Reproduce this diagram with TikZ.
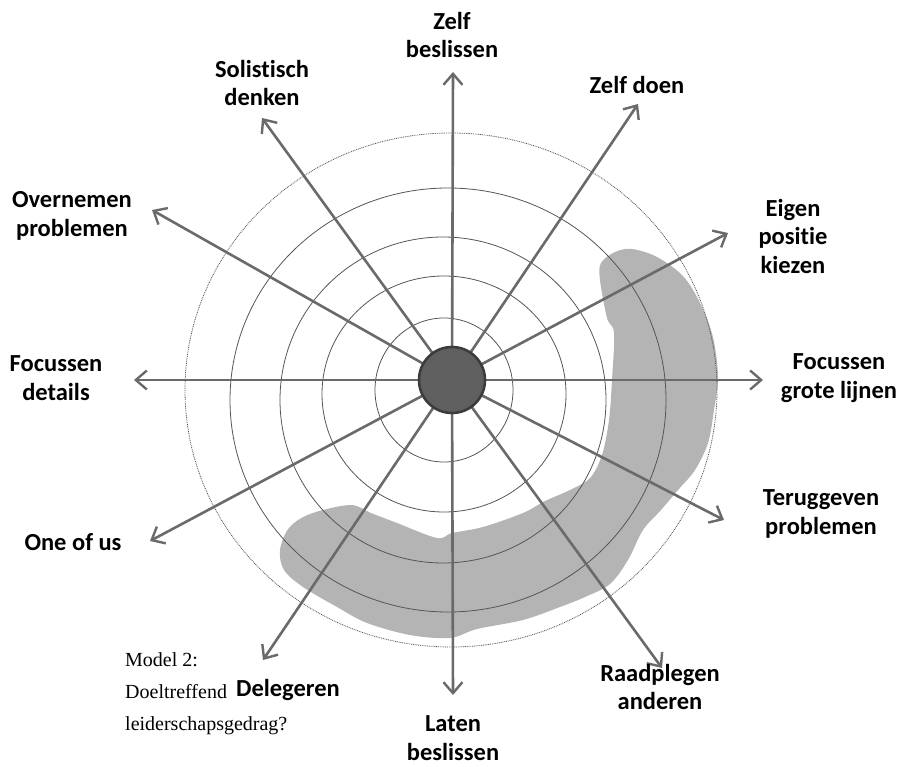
\documentclass[tikz,border=0pt]{standalone}
\usepackage{fontspec}
\setmainfont{Liberation Serif}
\newfontfamily\labelfont[Ligatures=NoCommon]{Carlito}
\usetikzlibrary{arrows.meta}
\definecolor{ringcol}{HTML}{555555}
\definecolor{spokecol}{HTML}{6A6A6A}
\definecolor{blobcol}{HTML}{B4B4B4}
\definecolor{hubfill}{HTML}{606060}
\definecolor{hubline}{HTML}{3C3C3C}
\tikzset{
  ring/.style={draw=ringcol, line width=0.8pt},
  outerring/.style={draw=ringcol, line width=0.8pt, dash pattern=on 0.9pt off 0.9pt},
  spoke/.style={draw=spokecol, line width=2.6pt,
    -{Straight Barb[length=11pt,width=19pt,line width=2.4pt]}},
  lbl/.style={font=\labelfont\bfseries\fontsize{24.5}{28.5}\selectfont,
    align=center, inner sep=0pt, text=black},
  caption/.style={font=\fontsize{20}{32}\selectfont, align=left,
    inner sep=0pt, anchor=north west, text=black},
}
\begin{document}
\begin{tikzpicture}[x=1pt, y=-1pt]
  \useasboundingbox (0,0) rectangle (897,767);

  % shaded band around the right and lower side
  \fill[blobcol] plot[smooth cycle, tension=0.55] coordinates {
    (601,263) (615,252) (632,249) (657,257) (683,276) (700,303) (713,337)
    (718,377) (714,410) (708,443) (695,470) (678,490) (661,510) (643,530)
    (628,560) (610,584) (585,597) (560,607) (523,620) (477,629) (450,638)
    (410,635) (367,623) (337,607) (303,587) (284,570) (280,550) (289,528)
    (310,514) (350,505) (371,513) (397,523) (437,538) (452,533) (483,527)
    (523,513) (545,501) (570,490) (590,478) (602,455) (609,420) (612,380)
    (614,333) (607,318) (600,280)};

  % concentric rings
  \draw[ring] (444,390) ellipse [x radius=69, y radius=72];
  \draw[ring] (444,394) ellipse [x radius=122, y radius=118];
  \draw[ring] (443,400) ellipse [x radius=163, y radius=163];
  \draw[ring] (448,400) ellipse [x radius=218, y radius=212];
  \draw[outerring] (451,390) ellipse [x radius=266, y radius=257];

  % spoke end points
  \coordinate (tN)   at (453,72);
  \coordinate (tNE)  at (638,104);
  \coordinate (tNW)  at (262,118);
  \coordinate (tWNW) at (152,210);
  \coordinate (tW)   at (134,380);
  \coordinate (tE)   at (763,380);
  \coordinate (tENE) at (728,233);
  \coordinate (tESE) at (724,520);
  \coordinate (tWSW) at (150,541);
  \coordinate (tSW)  at (263,660);
  \coordinate (tS)   at (453,695);
  \coordinate (tSE)  at (662,668);

  % spokes
  \coordinate (c) at (452,380);
  \foreach \t in {tN,tNE,tNW,tWNW,tW,tE,tENE,tESE,tWSW,tSW,tS,tSE}
    \draw[spoke] (c) -- (\t);

  % hub
  \node[circle, minimum size=66pt, inner sep=0pt, fill=hubfill,
        draw=hubline, line width=2.6pt] (hub) at (c) {};

  % labels
  \node[lbl] (lN)   at (452,35)  {Zelf\\beslissen};
  \node[lbl] (lNW)  at (262,83)  {Solistisch\\denken};
  \node[lbl] (lNE)  at (637,85)  {Zelf doen};
  \node[lbl] (lENE) at (793,236) {Eigen\\positie\\kiezen};
  \node[lbl] (lE)   at (839,378) {Focussen\\grote lijnen};
  \node[lbl] (lESE) at (821,514) {Teruggeven\\problemen};
  \node[lbl] (lSE)  at (660,687) {Raadplegen\\anderen};
  \node[lbl] (lS)   at (453,738) {Laten\\beslissen};
  \node[lbl] (lSW)  at (288,690) {Delegeren};
  \node[lbl] (lWSW) at (73,542)  {One of us};
  \node[lbl] (lW)   at (56,378)  {Focussen\\details};
  \node[lbl] (lWNW) at (72,216)  {Overnemen\\problemen};

  % caption
  \node[caption] (cap) at (125,652) {Model 2:\\Doeltreffend\\leiderschapsgedrag?};
\end{tikzpicture}
\end{document}
